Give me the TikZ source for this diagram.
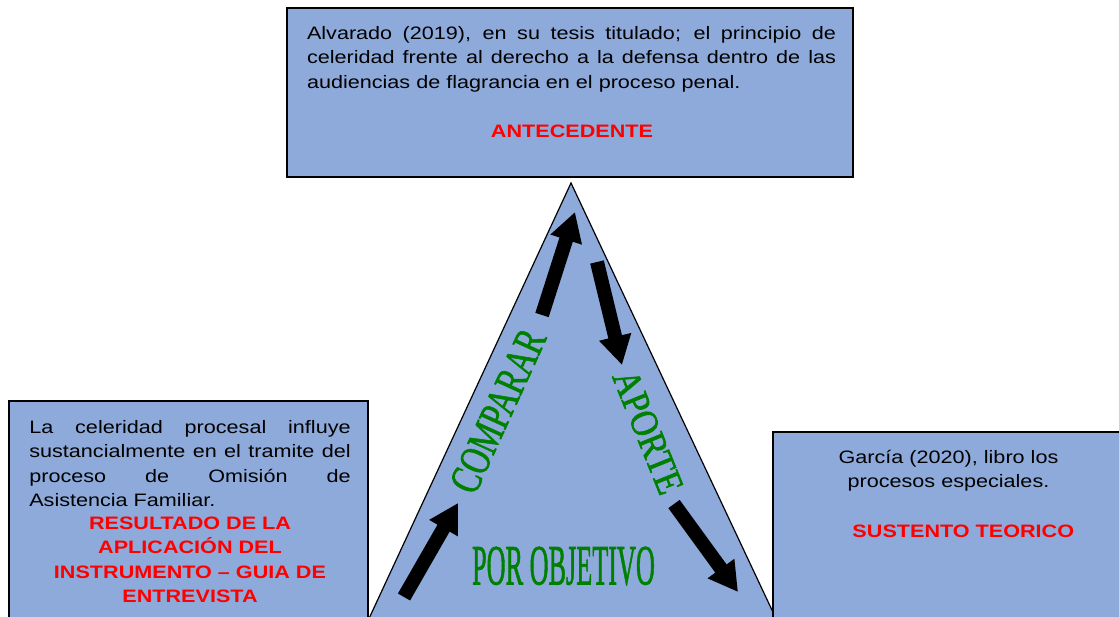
\documentclass[tikz,border=0pt]{standalone}
\usepackage{fontspec}
\usepackage{graphicx}
\setmainfont{Liberation Sans}
\newfontfamily\wordartfont[FakeBold=1.6]{Liberation Serif}
\usetikzlibrary{arrows.meta}
\definecolor{boxblue}{RGB}{142,170,219}
\definecolor{artgreen}{RGB}{0,128,0}
\definecolor{redtxt}{RGB}{255,0,0}
\newcommand\wideJust[2]{\scalebox{1.2}[1]{\parbox[t]{#1}{\hyphenpenalty=10000\exhyphenpenalty=10000 #2}}}
\newcommand\wideCenter[2]{\scalebox{1.2}[1]{\parbox[t]{#1}{\centering #2}}}
\tikzset{
  panel/.style={draw=black, line width=1.6pt, fill=boxblue},
  bodytext/.style={anchor=base, inner sep=0pt, font=\fontsize{18}{24.5}\selectfont},
  redlabel/.style={anchor=base, inner sep=0pt, text=redtxt, font=\bfseries\fontsize{18}{24.5}\selectfont},
  blockarrow/.style={line width=14pt, draw=black, -{Triangle[width=31pt,length=29pt]}},
  art/.style={text=artgreen, inner sep=0pt, font=\wordartfont}
}
\begin{document}
\begin{tikzpicture}[x=1pt,y=-1pt]
\useasboundingbox (0,0) rectangle (1119,616);
\clip (0,0) rectangle (1119,616);
% triangle
\coordinate (apex) at (571,183);
\coordinate (bl) at (366,625);
\coordinate (br) at (779,625);
\draw[fill=boxblue, line width=1.2pt] (apex) -- (bl) -- (br) -- cycle;
% boxes
\draw[panel] (287,8) rectangle (853,177);
\node[inner sep=0pt] (topbox) at (570,92.5) {};
\draw[panel] (9,401) rectangle (368,630);
\node[inner sep=0pt] (leftbox) at (188,510) {};
\draw[panel] (773,432) rectangle (1130,630);
\node[inner sep=0pt] (rightbox) at (946,525) {};
% texts
\node[bodytext] (toptext) at (571.5,39) {\wideJust{440.8pt}{Alvarado (2019), en su tesis titulado; el principio de\linebreak celeridad frente al derecho a la defensa dentro de las\linebreak audiencias de flagrancia en el proceso penal.}};
\node[redlabel] (antecedente) at (572,137) {\wideCenter{300pt}{ANTECEDENTE}};
\node[bodytext] (lefttext) at (190,433) {\wideJust{267.8pt}{La celeridad procesal influye\linebreak sustancialmente en el tramite del\linebreak proceso de Omisi\'on de\linebreak Asistencia Familiar.}};
\node[redlabel] (resultado) at (190,529) {\wideCenter{268pt}{RESULTADO DE LA\\APLICACI\'ON DEL\\INSTRUMENTO -- GUIA DE\\ENTREVISTA}};
\node[bodytext] (righttext) at (948.5,463) {\wideCenter{268pt}{Garc\'ia (2020), libro los\\procesos especiales.}};
\node[redlabel] (sustento) at (963.3,537) {\wideCenter{268pt}{SUSTENTO TEORICO}};
% green word art
\node[art, rotate=65.5] (comparar) at (498,411) {\scalebox{0.72}[1]{\fontsize{43.8}{50}\selectfont COMPARAR}};
\node[art, rotate=-68] (aporte) at (648,432) {\scalebox{0.87}[1]{\fontsize{39}{45}\selectfont APORTE}};
\node[art] (objetivo) at (563.5,566) {\scalebox{0.46}[1]{\fontsize{57}{62}\selectfont POR OBJETIVO}};
% block arrows
\coordinate (a1s) at (404,597);
\coordinate (a1e) at (458,503);
\coordinate (a2s) at (542,315);
\coordinate (a2e) at (575,212);
\coordinate (a3s) at (597,262);
\coordinate (a3e) at (622,365);
\coordinate (a4s) at (674,504);
\coordinate (a4e) at (738,592);
\draw[blockarrow] (a1s) -- (a1e);
\draw[blockarrow] (a2s) -- (a2e);
\draw[blockarrow] (a3s) -- (a3e);
\draw[blockarrow] (a4s) -- (a4e);
\end{tikzpicture}
\end{document}
